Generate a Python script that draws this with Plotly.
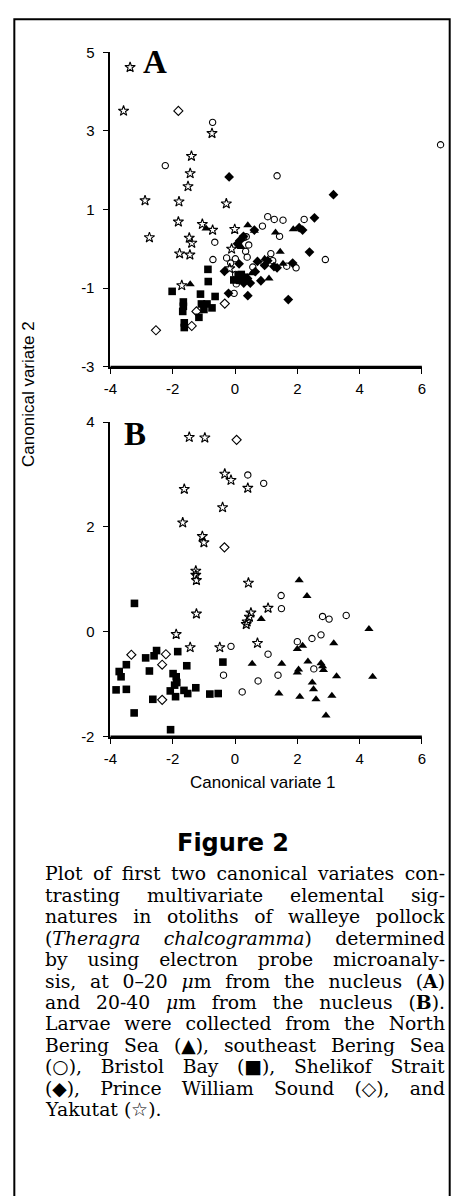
import plotly.graph_objects as go

W, H = 462, 1196

# ---------------- Panel A data (0-20 um) ----------------
A_nbs_x = [-0.93, 0.41, 0.62, 1.30, 1.87, 1.45, 1.54, 1.09, 0.54, -1.44, 0.95, 0.20]
A_nbs_y = [0.52, 0.60, 0.46, 0.42, 0.50, -0.07, -0.38, -0.75, -0.62, -0.90, -0.25, 0.05]

A_sebs_x = [-0.72, -2.24, 1.35, 6.6, 1.05, 1.26, 1.54, 2.22, 0.88, 1.43, 0.28, 0.36, 0.44, 0.34,
            0.39, 0.01, -0.27, -0.65, -0.71, -0.14, 0.57, 1.66, 1.96, 2.90, 0.02, 0.04, -0.03,
            1.21, 0.93, 1.15]
A_sebs_y = [3.22, 2.12, 1.86, 2.65, 0.82, 0.75, 0.73, 0.75, 0.58, 0.32, 0.29, 0.31, 0.10, -0.06,
            -0.21, -0.25, -0.23, 0.17, -0.27, -0.36, -0.46, -0.44, -0.48, -0.27, -0.65, -0.89, -1.13,
            -0.30, -0.38, -0.12]

A_bb_x = [-2.02, -0.87, -0.86, -1.11, -1.66, -1.66, -1.68, -1.08, -0.90, -0.64, -0.74, -1.00,
          -1.16, -1.63, -1.63, -0.04, 0.10, 0.20, 0.15, 0.30]
A_bb_y = [-1.08, -0.52, -0.83, -1.15, -1.35, -1.46, -1.59, -1.40, -1.40, -1.21, -1.50, -1.54,
          -1.74, -1.88, -2.00, -0.79, -0.67, -0.65, -0.80, -0.72]

A_ss_x = [-0.19, 3.16, 2.06, 2.17, 2.55, 2.39, 1.71, -0.21, 0.41, -0.34, 0.13, 0.27, 0.15, 0.08,
          0.72, 0.83, 0.28, 0.49, 1.35, 1.85, 0.62, 0.95, 1.05, 0.65, 1.25, 0.40]
A_ss_y = [1.83, 1.38, 0.54, 0.48, 0.79, -0.08, -1.29, -1.13, -1.19, -0.57, -0.38, 0.32, 0.21, 0.13,
          -0.32, -0.81, -0.87, -0.87, -0.48, -0.36, 0.48, -0.42, -0.30, -0.58, -0.45, -0.75]

A_pws_x = [-1.82, -2.54, -1.39, -1.24, -0.33]
A_pws_y = [3.51, -2.07, -1.96, -1.59, -1.39]

A_yak_x = [-3.37, -3.58, -0.74, -1.40, -1.44, -1.51, -2.89, -1.80, -0.28, -1.82, -2.75, -1.05,
           -0.72, -0.01, -1.47, -1.39, -1.78, -1.45, -1.71, -0.17, -0.11]
A_yak_y = [4.62, 3.51, 2.94, 2.36, 1.92, 1.59, 1.23, 1.20, 1.15, 0.69, 0.29, 0.63,
           0.48, 0.50, 0.28, 0.15, -0.12, -0.15, -0.93, -0.50, 0.00]

# ---------------- Panel B data (20-40 um) ----------------
B_nbs_x = [2.06, 2.31, 0.84, 4.30, 2.00, 2.17, 3.17, 0.55, 1.50, 2.34, 2.04, 2.00, 2.76, 2.81,
           2.84, 3.26, 4.42, 2.48, 2.52, 1.41, 2.08, 2.60, 3.11, 2.92]
B_nbs_y = [0.98, 0.68, 0.24, 0.05, -0.33, -0.27, -0.22, -0.61, -0.61, -0.57, -0.72, -0.78, -0.60,
           -0.66, -0.73, -0.85, -0.86, -0.97, -1.10, -1.18, -1.24, -1.29, -1.22, -1.60]

B_sebs_x = [0.41, 0.92, 1.48, 1.49, 2.81, 3.02, 3.57, -0.13, 1.06, 2.00, 2.47, 2.76, -0.37, 0.74,
            0.23, 1.38, 2.53]
B_sebs_y = [2.99, 2.83, 0.69, 0.44, 0.29, 0.24, 0.31, -0.28, -0.43, -0.19, -0.13, -0.06, -0.83,
            -0.94, -1.15, -0.83, -0.71]

B_bb_x = [-3.23, -2.52, -2.60, -2.87, -1.84, -3.49, -2.75, -3.72, -3.66, -1.55, -1.99, -1.89,
          -1.94, -1.87, -0.39, -3.82, -3.49, -2.08, -1.64, -1.52, -1.26, -1.91, -2.64, -0.81,
          -0.54, -3.24, -2.07]
B_bb_y = [0.54, -0.36, -0.46, -0.50, -0.38, -0.63, -0.75, -0.76, -0.86, -0.65, -0.80, -0.86,
          -1.02, -0.97, -0.58, -1.11, -1.10, -1.13, -1.12, -1.18, -1.07, -1.24, -1.29, -1.19,
          -1.18, -1.55, -1.87]

B_pws_x = [0.05, -0.34, -3.33, -2.22, -2.34, -2.34]
B_pws_y = [3.66, 1.61, -0.44, -0.43, -0.63, -1.30]

B_yak_x = [-1.47, -0.97, -0.33, -0.13, 0.41, -1.63, -0.40, -1.68, -1.05, -1.00, -1.26, -1.26,
           -1.24, 0.43, 1.06, 0.51, 0.46, 0.39, 0.36, -1.24, -1.89, -1.44, -0.49, 0.72]
B_yak_y = [3.71, 3.70, 3.01, 2.89, 2.74, 2.72, 2.37, 2.08, 1.82, 1.70, 1.16, 1.08,
           0.98, 0.93, 0.45, 0.36, 0.28, 0.19, 0.14, 0.34, -0.05, -0.30, -0.30, -0.22]

# ---------------- ticks ----------------
x_ticks = [-4, -2, 0, 2, 4, 6]
x_ticktext = ["-4", "-2", "0", "2", "4", "6"]
yA_ticks = [-3, -1, 1, 3, 5]
yA_ticktext = ["-3", "-1", "1", "3", "5"]
yB_ticks = [-2, 0, 2, 4]
yB_ticktext = ["-2", "0", "2", "4"]

caption_lines = [
    "Plot of first two canonical variates con-",
    "trasting multivariate elemental sig-",
    "natures in otoliths of walleye pollock",
    "(<i>Theragra chalcogramma</i>) determined",
    "by using electron probe microanaly-",
    "sis, at 0–20 <i>μ</i>m from the nucleus (<b>A</b>)",
    "and 20-40 <i>μ</i>m from the nucleus (<b>B</b>).",
    "Larvae were collected from the North",
    "Bering Sea (▲), southeast Bering Sea",
    "(○), Bristol Bay (■), Shelikof Strait",
    "(◆), Prince William Sound (◇), and",
    "Yakutat (☆).",
]

def px(x):
    return x / W

def py(y):
    return 1 - y / H

fig = go.Figure()

def add_series(xs, ys, symbol, size, xa, ya, lw=1.0):
    fig.add_trace(go.Scatter(
        x=xs, y=ys, mode="markers", xaxis=xa, yaxis=ya, cliponaxis=False,
        marker=dict(symbol=symbol, size=size, color="black",
                    line=dict(color="black", width=lw)),
        showlegend=False, hoverinfo="skip"))

SQ, DI, TR, CI, DO, ST = 7.6, 7.5, 8, 6.3, 7, 7.8
for xa, ya, pre in [("x", "y", "A"), ("x2", "y2", "B")]:
    d = globals()
    add_series(d[pre + "_bb_x"], d[pre + "_bb_y"], "square", SQ, xa, ya, 0)
    if pre == "A":
        add_series(A_ss_x, A_ss_y, "diamond", DI, xa, ya, 0)
    add_series(d[pre + "_nbs_x"], d[pre + "_nbs_y"], "triangle-up", TR, xa, ya, 0)
    # panel A circles use a wider hidden x-axis with identical scale so the
    # point beyond x=6 is still drawn
    add_series(d[pre + "_sebs_x"], d[pre + "_sebs_y"], "circle-open", CI,
               "x3" if pre == "A" else xa, ya, 1.1)
    add_series(d[pre + "_pws_x"], d[pre + "_pws_y"], "diamond-open", DO, xa, ya, 1.1)
    add_series(d[pre + "_yak_x"], d[pre + "_yak_y"], "star-open", ST, xa, ya, 1.1)

tickfont = dict(family="Liberation Sans, Arial, sans-serif", size=15, color="black")
axis_common = dict(showgrid=False, zeroline=False, showline=True, linecolor="black",
                   linewidth=2, ticks="outside", ticklen=5, tickwidth=1.3,
                   tickcolor="black", tickfont=tickfont)

X0, X1 = 106, 425
unit = (X1 - X0) / 10.0
xdom = [px(X0), px(X1)]
fig.update_layout(
    width=W, height=H, margin=dict(l=0, r=0, t=0, b=0),
    paper_bgcolor="white", plot_bgcolor="rgba(0,0,0,0)",
    xaxis=dict(domain=xdom, range=[-4, 6], tickvals=x_ticks, ticktext=x_ticktext,
               anchor="y", ticklabelstandoff=2, **axis_common),
    yaxis=dict(domain=[py(363), py(44)], range=[-3, 5], tickvals=yA_ticks,
               ticktext=yA_ticktext, anchor="x", ticklabelstandoff=6, **axis_common),
    xaxis2=dict(domain=xdom, range=[-4, 6], tickvals=x_ticks, ticktext=x_ticktext,
                anchor="y2", ticklabelstandoff=2, **axis_common),
    yaxis2=dict(domain=[py(738), py(419)], range=[-2, 4], tickvals=yB_ticks,
                ticktext=yB_ticktext, anchor="x2", ticklabelstandoff=6, **axis_common),
    xaxis3=dict(domain=[px(X0), px(X0 + 10.9 * unit)], range=[-4, 6.9], visible=False,
                anchor="y", fixedrange=True, showgrid=False, zeroline=False),
)

# outer frame of the figure panel
fig.add_shape(type="rect", xref="paper", yref="paper",
              x0=px(7.5), x1=px(453.5), y0=py(1210), y1=py(10.5),
              line=dict(color="black", width=2))
# bottom spines (drawn along each axis domain)
for xr, yr in [("x domain", "y domain"), ("x2 domain", "y2 domain")]:
    fig.add_shape(type="line", xref=xr, yref=yr, x0=0, x1=1, y0=0, y1=0,
                  line=dict(color="black", width=2), layer="above")

ann = []
ann.append(dict(text="<b>A</b>", x=px(151.5), y=py(54), xanchor="center", yanchor="middle",
                font=dict(family="Liberation Serif, Times New Roman, serif", size=33, color="black")))
ann.append(dict(text="<b>B</b>", x=px(131), y=py(431), xanchor="center", yanchor="middle",
                font=dict(family="Liberation Serif, Times New Roman, serif", size=33, color="black")))
ann.append(dict(text="Canonical variate 2", x=px(22), y=py(390), textangle=-90,
                xanchor="center", yanchor="middle",
                font=dict(family="Liberation Sans, Arial, sans-serif", size=17, color="black")))
ann.append(dict(text="Canonical variate 1", x=px(262), y=py(785),
                xanchor="center", yanchor="middle",
                font=dict(family="Liberation Sans, Arial, sans-serif", size=17, color="black")))
ann.append(dict(text="<b>Figure 2</b>", x=px(231), y=py(846),
                xanchor="center", yanchor="middle",
                font=dict(family="DejaVu Sans, sans-serif", size=24, color="black")))
first_cap = len(ann)
for i, line in enumerate(caption_lines):
    ann.append(dict(text=line, x=px(37), y=py(877 + i * 21.8), xanchor="left", yanchor="middle",
                    align="left",
                    font=dict(family="DejaVu Serif, serif", size=18.8, color="black")))
for a in ann:
    a.update(xref="paper", yref="paper", showarrow=False)
fig.update_layout(annotations=ann)

# remove page margin and justify caption lines (all but the last) to a 400px column
post = """
document.body.style.margin = '0';
try {
  var gd = document.getElementById('{plot_id}');
  var first = %d, last = %d, target = 400;
  for (var i = first; i < last; i++) {
    var g = gd.querySelector('g.annotation[data-index="' + i + '"]');
    if (!g) continue;
    var t = g.querySelector('text.annotation-text');
    if (!t) continue;
    var w = t.getBBox().width;
    var n = (t.textContent.match(/ /g) || []).length;
    if (n > 0) { t.style.wordSpacing = ((target - w) / n) + 'px'; }
  }
} catch (e) {}
""" % (first_cap, first_cap + len(caption_lines) - 1)

fig.write_html("out.html", post_script=post)
